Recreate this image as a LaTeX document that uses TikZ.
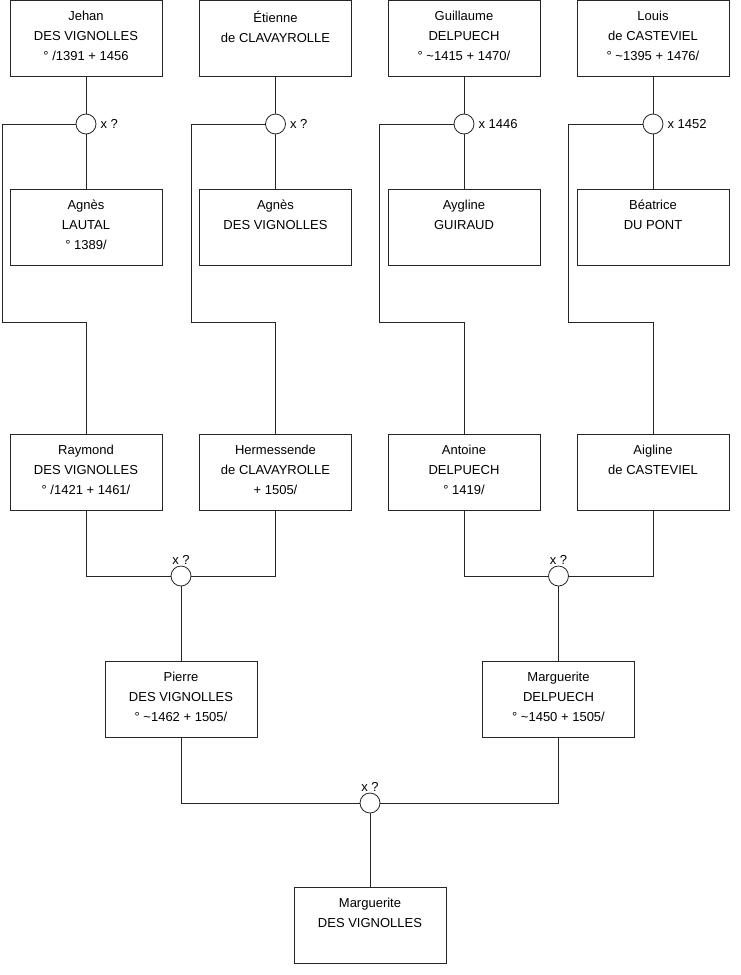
\documentclass[tikz,border=0pt]{standalone}
\usepackage{fontspec}
\setmainfont{Liberation Sans}
\usetikzlibrary{positioning}

\begin{document}
\begin{tikzpicture}[x=1pt, y=-1pt,
        person/.style={draw=black!85, fill=white, line width=0.8pt, minimum width=152pt, minimum height=76pt, inner sep=0pt,
            font=\fontsize{13}{20}\selectfont,
            execute at begin node={\begin{minipage}[t][54pt][t]{150pt}\centering},
            execute at end node={\end{minipage}}},
        union/.style={circle, draw=black!85, fill=white, line width=0.8pt, minimum size=20pt, inner sep=0pt},
        wedding/.style={font=\fontsize{13}{14}\selectfont, inner sep=1pt},
        link/.style={draw=black!85, line width=0.8pt}
    ]
    \useasboundingbox (0,0) rectangle (740,975);

    % grand-parents
    \node[person] (jehan) at (86,38.5) {Jehan\\DES VIGNOLLES\\° /1391 + 1456};
    \node[person] (etienne) at (275.5,38.5) {Étienne\\de CLAVAYROLLE};
    \node[person] (guillaume) at (464,38.5) {Guillaume\\DELPUECH\\° \textasciitilde1415 + 1470/};
    \node[person] (louis) at (653,38.5) {Louis\\de CASTEVIEL\\° \textasciitilde1395 + 1476/};

    \node[person] (agneslautal) at (86,227) {Agnès\\LAUTAL\\° 1389/};
    \node[person] (agnesdv) at (275.5,227) {Agnès\\DES VIGNOLLES};
    \node[person] (aygline) at (464,227) {Aygline\\GUIRAUD};
    \node[person] (beatrice) at (653,227) {Béatrice\\DU PONT};

    \node[union] (m1) at (86,124) {};
    \node[union] (m2) at (275.5,124) {};
    \node[union] (m3) at (464,124) {};
    \node[union] (m4) at (653,124) {};
    \node[wedding, right=3pt of m1] (w1) {x ?};
    \node[wedding, right=3pt of m2] (w2) {x ?};
    \node[wedding, right=3pt of m3] (w3) {x 1446};
    \node[wedding, right=3pt of m4] (w4) {x 1452};

    % parents
    \node[person] (raymond) at (86,472.5) {Raymond\\DES VIGNOLLES\\° /1421 + 1461/};
    \node[person] (hermessende) at (275.5,472.5) {Hermessende\\de CLAVAYROLLE\\+ 1505/};
    \node[person] (antoine) at (464,472.5) {Antoine\\DELPUECH\\° 1419/};
    \node[person] (aigline) at (653,472.5) {Aigline\\de CASTEVIEL};

    \node[union] (m5) at (181,576) {};
    \node[union] (m6) at (558.5,576) {};
    \node[wedding, above=0pt of m5] (w5) {x ?};
    \node[wedding, above=0pt of m6] (w6) {x ?};

    \node[person] (pierre) at (181,699.5) {Pierre\\DES VIGNOLLES\\° \textasciitilde1462 + 1505/};
    \node[person] (marguerited) at (558.5,699.5) {Marguerite\\DELPUECH\\° \textasciitilde1450 + 1505/};

    \node[union] (m7) at (370,803) {};
    \node[wedding, above=0pt of m7] (w7) {x ?};

    \node[person] (margueritedv) at (370,925.5) {Marguerite\\DES VIGNOLLES};

    % bends towards the children
    \coordinate (k1) at (2,322);
    \coordinate (k2) at (191,322);
    \coordinate (k3) at (379,322);
    \coordinate (k4) at (568,322);

    \draw[link] (jehan) -- (m1) -- (agneslautal);
    \draw[link] (etienne) -- (m2) -- (agnesdv);
    \draw[link] (guillaume) -- (m3) -- (aygline);
    \draw[link] (louis) -- (m4) -- (beatrice);

    \draw[link] (m1.west) -| (k1) -| (raymond.north);
    \draw[link] (m2.west) -| (k2) -| (hermessende.north);
    \draw[link] (m3.west) -| (k3) -| (antoine.north);
    \draw[link] (m4.west) -| (k4) -| (aigline.north);

    \draw[link] (raymond.south) |- (m5.west);
    \draw[link] (hermessende.south) |- (m5.east);
    \draw[link] (m5) -- (pierre);
    \draw[link] (antoine.south) |- (m6.west);
    \draw[link] (aigline.south) |- (m6.east);
    \draw[link] (m6) -- (marguerited);

    \draw[link] (pierre.south) |- (m7.west);
    \draw[link] (marguerited.south) |- (m7.east);
    \draw[link] (m7) -- (margueritedv);
\end{tikzpicture}
\end{document}
